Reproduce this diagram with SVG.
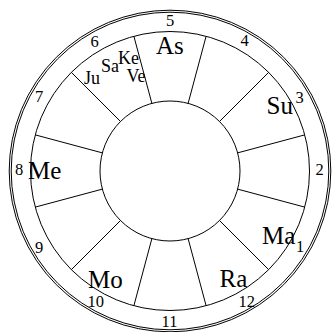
<svg xmlns="http://www.w3.org/2000/svg" width="332" height="332" viewBox="0 0 332 332">
<style>
.c{fill:none;stroke:#000;stroke-width:1}
.l{stroke:#000;stroke-width:1}
text{font-family:"Liberation Serif","Times New Roman",serif;fill:#000}
.n{font-size:16.5px;text-anchor:middle}
.p{font-size:25px}
.s{font-size:18px}
</style>
<rect width="332" height="332" fill="#fff"/>
<g id="rings">
<circle class="c" cx="170" cy="171" r="160.8"/>
<circle class="c" cx="170" cy="171" r="158.8"/>
<circle class="c" cx="170" cy="171" r="139.5"/>
<circle class="c" cx="170" cy="171" r="70"/>
</g>
<g id="connectors">
<line class="l" x1="188.12" y1="103.39" x2="206.11" y2="36.25"/>
<line class="l" x1="219.50" y1="121.50" x2="268.64" y2="72.36"/>
<line class="l" x1="237.62" y1="152.88" x2="304.75" y2="134.89"/>
<line class="l" x1="237.62" y1="189.12" x2="304.75" y2="207.11"/>
<line class="l" x1="219.50" y1="220.50" x2="268.64" y2="269.64"/>
<line class="l" x1="188.12" y1="238.62" x2="206.11" y2="305.75"/>
<line class="l" x1="151.88" y1="238.62" x2="133.89" y2="305.75"/>
<line class="l" x1="120.50" y1="220.50" x2="71.36" y2="269.64"/>
<line class="l" x1="102.38" y1="189.12" x2="35.25" y2="207.11"/>
<line class="l" x1="102.38" y1="152.88" x2="35.25" y2="134.89"/>
<line class="l" x1="120.50" y1="121.50" x2="71.36" y2="72.36"/>
<line class="l" x1="151.88" y1="103.39" x2="133.89" y2="36.25"/>
</g>
<g id="house5"><text class="n" x="170" y="25.5">5</text><text class="p" x="156" y="53.5">As</text></g>
<g id="house4"><text class="n" x="244.7" y="46">4</text></g>
<g id="house3"><text class="n" x="299.5" y="103">3</text><text class="p" x="266.5" y="114">Su</text></g>
<g id="house2"><text class="n" x="319.5" y="175.3">2</text></g>
<g id="house1"><text class="n" x="300" y="251.7">1</text><text class="p" x="262" y="243.5">Ma</text></g>
<g id="house12"><text class="n" x="246.7" y="307.3">12</text><text class="p" x="219.5" y="286.7">Ra</text></g>
<g id="house11"><text class="n" x="169.5" y="326.7">11</text></g>
<g id="house10"><text class="n" x="95.8" y="306.7">10</text><text class="p" x="88" y="288.3">Mo</text></g>
<g id="house9"><text class="n" x="39.2" y="253.3">9</text></g>
<g id="house8"><text class="n" x="19.2" y="175.3">8</text><text class="p" x="28" y="179.3">Me</text></g>
<g id="house7"><text class="n" x="39.2" y="101.7">7</text></g>
<g id="house6"><text class="n" x="94.5" y="46.7">6</text><text class="s" x="84" y="84">Ju</text><text class="s" x="101" y="71.7">Sa</text><text class="s" x="118" y="64.3">Ke</text><text class="s" x="126.5" y="82.3">Ve</text></g>
</svg>
